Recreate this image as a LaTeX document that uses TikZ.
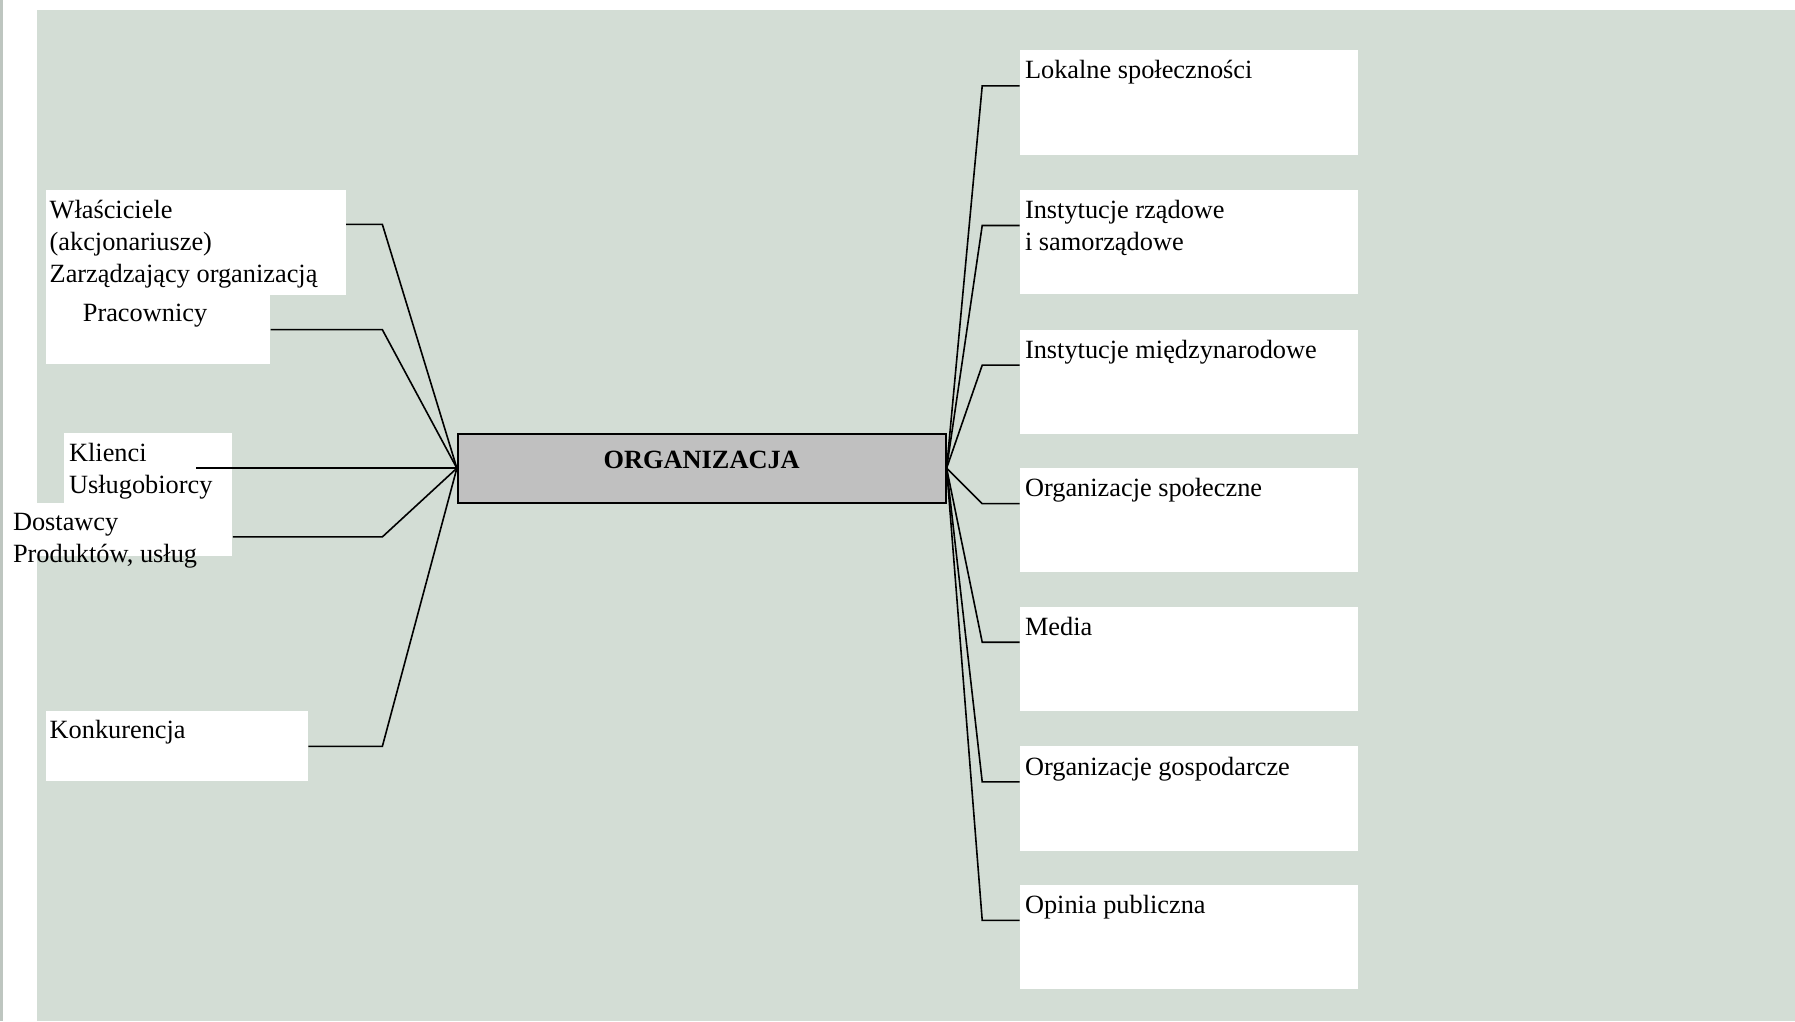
\documentclass[tikz,border=0pt]{standalone}
\usepackage{fontspec}
\setmainfont{Liberation Serif}
\usetikzlibrary{fit}
\definecolor{bgtex}{RGB}{211,221,213}
\definecolor{edgegray}{RGB}{190,198,192}
\definecolor{orggray}{RGB}{192,192,192}
\begin{document}
\begin{tikzpicture}[x=0.5pt,y=-0.5pt,
  box/.style={fill=white, draw=none, inner sep=0pt},
  lbl/.style={anchor=base west, inner sep=0pt, font=\fontsize{11.5}{14}\selectfont},
  conn/.style={draw=black, line width=0.7pt, line join=miter},
]
\useasboundingbox (0,0) rectangle (1568,892);
\fill[white] (0,0) rectangle (1568,892);
\fill[bgtex] (32,9) rectangle (1568,892);
\fill[edgegray] (0,0) rectangle (3,892);

% left boxes
\node[box, fit={(40,166) (302,258)}] (wl) {};
\node[box, fit={(40,258) (236,318)}] (pr) {};
\node[box, fit={(56,378) (203,439)}] (kl) {};
\node[box, fit={(3,439) (203,486)}] (ds) {};
\node[box, fit={(40,621) (269,682)}] (kn) {};

% right boxes
\foreach \i/\t in {1/44,2/166,3/288,4/409,5/530,6/652,7/773} {
  \node[box, fit={(891,\t) (1186,\t+91)}] (r\i) {};
}

% central node
\node[fill=orggray, draw=black, line width=0.9pt, inner sep=0pt,
      fit={(400,379) (826,439)}] (org) {};
\node[anchor=base, inner sep=0pt, font=\fontsize{11.5}{14}\selectfont\bfseries]
  (orgt) at (613,409) {ORGANIZACJA};

% left connectors
\coordinate (cwl) at (334,196);
\coordinate (cpr) at (334,288);
\coordinate (ckl) at (171,409);
\coordinate (cds) at (334,469);
\coordinate (ckn) at (334,652);
\draw[conn] (org.west) -- (cwl) -- (cwl -| wl.east);
\draw[conn] (org.west) -- (cpr) -- (cpr -| pr.east);
\draw[conn] (org.west) -- (ckl);
\draw[conn] (org.west) -- (cds) -- (cds -| ds.east);
\draw[conn] (org.west) -- (ckn) -- (ckn -| kn.east);

% right connectors
\foreach \i/\t in {1/44,2/166,3/288,4/409,5/530,6/652,7/773} {
  \coordinate (c\i) at (858,\t+31);
  \draw[conn] (org.east) -- (c\i) -- (c\i -| r\i.west);
}

% left texts
\node[lbl] (twl1) at (43,191) {Właściciele};
\node[lbl] (twl2) at (43,219) {(akcjonariusze)};
\node[lbl] (twl3) at (43,247) {Zarządzający organizacją};
\node[lbl] (tpr) at (72,281) {Pracownicy};
\node[lbl] (tkl1) at (60,403) {Klienci};
\node[lbl] (tkl2) at (60,431) {Usługobiorcy};
\node[lbl] (tds1) at (11,463) {Dostawcy};
\node[lbl] (tds2) at (11,491) {Produktów, usług};
\node[lbl] (tkn) at (43,645) {Konkurencja};

% right texts
\node[lbl] (tr1) at (895,69) {Lokalne społeczności};
\node[lbl] (tr2a) at (895,191) {Instytucje rządowe};
\node[lbl] (tr2b) at (895,219) {i samorządowe};
\node[lbl] (tr3) at (895,313) {Instytucje międzynarodowe};
\node[lbl] (tr4) at (895,434) {Organizacje społeczne};
\node[lbl] (tr5) at (895,555) {Media};
\node[lbl] (tr6) at (895,677) {Organizacje gospodarcze};
\node[lbl] (tr7) at (895,798) {Opinia publiczna};
\end{tikzpicture}
\end{document}
